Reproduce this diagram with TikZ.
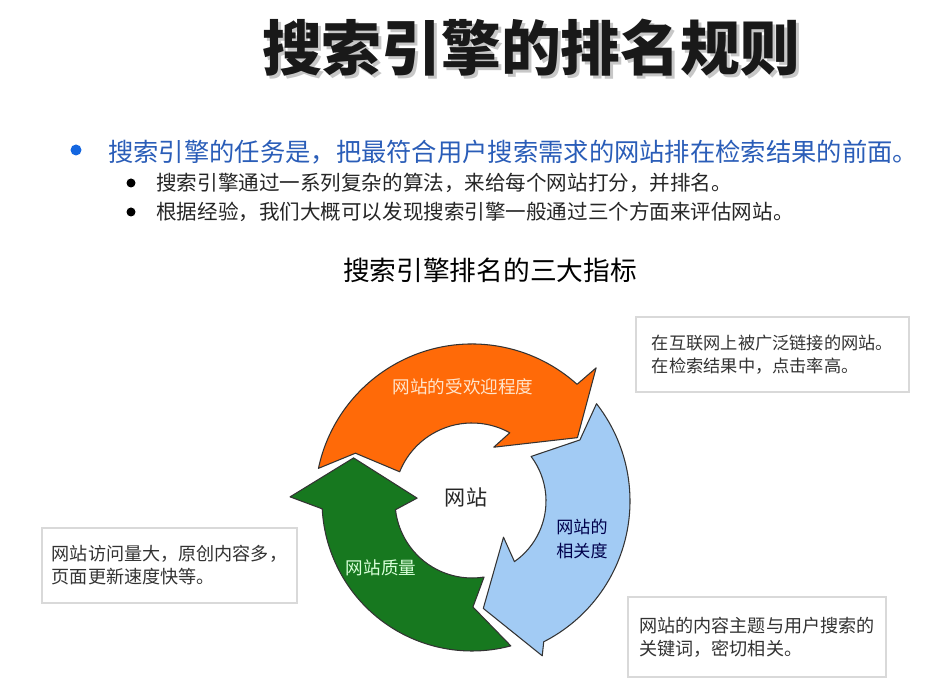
\documentclass[tikz,border=0pt]{standalone}
\usepackage{fontspec}
\setmainfont{Noto Sans CJK SC}
\usetikzlibrary{calc}
\definecolor{arrorange}{HTML}{FF6A08}
\definecolor{arrblue}{HTML}{A2CBF4}
\definecolor{arrgreen}{HTML}{17781F}
\definecolor{taskblue}{HTML}{2A5DB8}
\definecolor{dotblue}{HTML}{1466E0}

\begin{document}
\begin{tikzpicture}[
    x=0.02cm, y=0.02cm,
    every node/.style={inner sep=0pt},
    bigarrow/.style={draw=black!80, line width=0.6pt, line join=round},
    arrlbl/.style={font=\fontsize{10}{12}\selectfont},
    bullettext/.style={anchor=west, font=\fontsize{11.7}{14}\selectfont, text=black!85},
    infobox/.style={draw=black!15, line width=0.7pt, align=left,
                    font=\fontsize{10.3}{13}\selectfont, text=black!80}
  ]
  \useasboundingbox (0,0) rectangle (949,689);
  \fill[white] (0,0) rectangle (949,689);

  % title, with a soft shadow
  \node[font=\fontsize{34}{40}\selectfont\bfseries, text=black!22] at (534,638) {搜索引擎的排名规则};
  \node[font=\fontsize{34}{40}\selectfont\bfseries, text=black!90] (title) at (531,641) {搜索引擎的排名规则};

  % bullets
  \fill[dotblue] (76,539) circle (5.5);
  \node[anchor=west, font=\fontsize{14.4}{17}\selectfont, text=taskblue] (task) at (108,537)
    {搜索引擎的任务是，把最符合用户搜索需求的网站排在检索结果的前面。};
  \fill (131,506) circle (4.5);
  \node[bullettext] (algo) at (156,506) {搜索引擎通过一系列复杂的算法，来给每个网站打分，并排名。};
  \fill (131,477) circle (4.5);
  \node[bullettext] (assess) at (156,477) {根据经验，我们大概可以发现搜索引擎一般通过三个方面来评估网站。};

  \node[font=\fontsize{15.2}{18}\selectfont] (subtitle) at (490,419) {搜索引擎排名的三大指标};

  % the three curved arrows round the centre
  \coordinate (c) at (472,188);
  \filldraw[bigarrow, fill=arrorange] ($(c)+(168:157)$) arc[start angle=168, end angle=48, radius=157]
    -- ($(c)+(47:182)$) -- ($(c)+(31:123)$) -- ($(c)+(68:58)$) -- ($(c)+(61:78)$)
    arc[start angle=61, end angle=158, radius=78] -- ($(c)+(157.7:126)$) -- cycle;
  \filldraw[bigarrow, fill=arrblue] ($(c)+(38:158)$) arc[start angle=38, end angle=-63, radius=158]
    -- ($(c)+(-65.6:170)$) -- ($(c)+(-84:108)$) -- ($(c)+(-49:48)$) -- ($(c)+(-55:74)$)
    arc[start angle=-55, end angle=37, radius=74] -- ($(c)+(29.5:124)$) -- cycle;
  \filldraw[bigarrow, fill=arrgreen] ($(c)+(-75:150)$) arc[start angle=-75, end angle=-177, radius=150]
    -- ($(c)+(-181.3:182)$) -- ($(c)+(-200:126)$) -- ($(c)+(-183:55)$) -- ($(c)+(-173.5:77)$)
    arc[start angle=-173.5, end angle=-81, radius=77] -- ($(c)+(-89.5:106)$) -- cycle;

  \node[arrlbl, text=orange!20] (popular) at (463,302) {网站的受欢迎程度};
  \node[arrlbl, text=blue!30!black, align=center, font=\fontsize{9.7}{14}\selectfont] (relevance) at (582,150) {网站的\\相关度};
  \node[arrlbl, text=green!15!white] (quality) at (381,121) {网站质量};
  \node[font=\fontsize{12}{14}\selectfont, text=black!85] (site) at (466,192) {网站};

  % explanation boxes
  \node[infobox, font=\fontsize{9.8}{13}\selectfont, minimum width=5.46cm, minimum height=1.5cm] (boxpop) at (772.5,334.5)
    {在互联网上被广泛链接的网站。\\在检索结果中，点击率高。};
  \node[infobox, minimum width=5.1cm, minimum height=1.5cm] (boxqual) at (169.5,123.5)
    {网站访问量大，原创内容多，\\页面更新速度快等。};
  \node[infobox, minimum width=5.16cm, minimum height=1.6cm] (boxrel) at (757,52)
    {网站的内容主题与用户搜索的\\关键词，密切相关。};
\end{tikzpicture}
\end{document}
